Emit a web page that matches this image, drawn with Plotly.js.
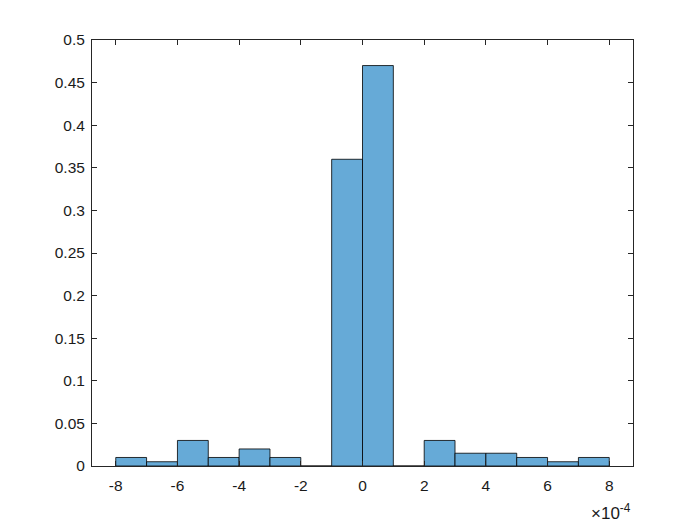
<!DOCTYPE html>
<html>
<head>
<meta charset="utf-8">
<script src="https://cdn.plot.ly/plotly-3.0.1.min.js"></script>
<style>html,body{margin:0;padding:0;background:#fff;}</style>
</head>
<body>
<div id="chart" style="width:700px;height:525px;"></div>
<script>
// bin edges in units of 1e-4
const binEdges = [-8,-7,-6,-5,-4,-3,-2,-1,0,1,2,3,4,5,6,7,8];
// probability per bin
const probs = [0.01,0.005,0.03,0.01,0.02,0.01,0,0.36,0.47,0,0.03,0.015,0.015,0.01,0.005,0.01];
const xTickVals = [-8,-6,-4,-2,0,2,4,6,8];
const xTickText = ['-8','-6','-4','-2','0','2','4','6','8'];
const yTickVals = [0,0.05,0.1,0.15,0.2,0.25,0.3,0.35,0.4,0.45,0.5];
const yTickText = ['0','0.05','0.1','0.15','0.2','0.25','0.3','0.35','0.4','0.45','0.5'];
const scale = 1e-4;

const centers = [], widths = [];
for (let i = 0; i < probs.length; i++) {
  centers.push((binEdges[i] + binEdges[i+1]) / 2 * scale);
  widths.push((binEdges[i+1] - binEdges[i]) * scale);
}

const trace = {
  type: 'bar',
  x: centers,
  y: probs,
  width: widths,
  marker: {color: '#66aad7', line: {color: '#000000', width: 0.8}},
  hoverinfo: 'skip'
};

const FONT = 'Liberation Sans, Arial, sans-serif';
const axisCommon = {
  showgrid: false,
  zeroline: false,
  showline: true,
  linecolor: '#262626',
  linewidth: 1,
  mirror: 'ticks',
  ticks: 'inside',
  ticklen: 5,
  tickcolor: '#262626',
  tickfont: {family: FONT, size: 15.5, color: '#1a1a1a'}
};

const layout = {
  width: 700, height: 525,
  paper_bgcolor: '#ffffff', plot_bgcolor: '#ffffff',
  margin: {l: 92, r: 67, t: 40, b: 59},
  showlegend: false,
  bargap: 0,
  xaxis: Object.assign({}, axisCommon, {
    range: [-8.77e-4, 8.77e-4],
    tickmode: 'array',
    tickvals: xTickVals.map(v => v * scale),
    ticktext: xTickText,
    ticklabelstandoff: 5
  }),
  yaxis: Object.assign({}, axisCommon, {
    range: [0, 0.5],
    tickmode: 'array',
    tickvals: yTickVals,
    ticktext: yTickText,
    ticklabelstandoff: 3
  }),
  annotations: [{
    xref: 'paper', yref: 'paper', x: 1, y: 0,
    xanchor: 'right', yanchor: 'top', yshift: -33,
    text: '×10<sup>-4</sup>', showarrow: false,
    font: {family: FONT, size: 17, color: '#1a1a1a'}
  }]
};

Plotly.newPlot('chart', [trace], layout, {displayModeBar: false, staticPlot: true});
</script>
</body>
</html>
